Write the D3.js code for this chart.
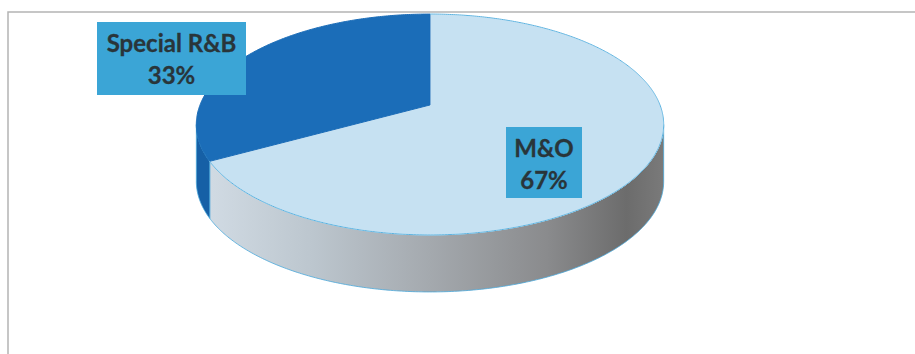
<!DOCTYPE html>
<html><head><meta charset="utf-8">
<script src="https://cdn.jsdelivr.net/npm/d3@7"></script>
<style>body{margin:0;background:#fff}svg{display:block}</style>
</head><body>
<svg id="c" width="915" height="354"></svg>
<script>
const categories = ["M&O", "Special R&B"];
const values = [67, 33];
const pctLabels = ["67%", "33%"];
const topColors = ["#c6e1f2", "#1b6db8"];
const sideColors = ["url(#sideGrad)", "#1660a6"];

const svg = d3.select("#c");
const W = 915, H = 354;
// perspective projection of the pie disc
const cx = 430, cy0 = 105, A = 230, B = 107, k = 0.1765, depth = 57;

const defs = svg.append("defs");
const g = defs.append("linearGradient").attr("id","sideGrad")
  .attr("gradientUnits","userSpaceOnUse").attr("x1",cx-234).attr("x2",cx+234).attr("y1",0).attr("y2",0);
[[0,"#d3dde6"],[0.25,"#bcc6ce"],[0.5,"#a4a9ae"],[0.75,"#8a8b8d"],[0.92,"#6c6c6c"],[1,"#7a7a7a"]]
  .forEach(([o,c])=>g.append("stop").attr("offset",o).attr("stop-color",c));

// frame
svg.append("path").attr("d",`M8,${H} L8,12 L${W},12`).attr("fill","none").attr("stroke","#b4b4b4").attr("stroke-width",1.5);

const pie = d3.pie().sort(null).value(d=>d);
const arcs = pie(values);

const pt = (a, dy=0) => {
  const X = Math.sin(a), Z = -Math.cos(a), w = 1 - k*Z;
  return [cx + A*X/w, cy0 + B*Z/w + dy];
};
const sample = (a0, a1, dy=0) => {
  const n = Math.max(2, Math.ceil(Math.abs(a1-a0)/0.01));
  return d3.range(n+1).map(j => pt(a0 + (a1-a0)*j/n, dy));
};
const line = d3.line();

// silhouette angles (widest points of the projected disc)
const sil0 = Math.acos(-k), sil1 = 2*Math.PI - Math.acos(-k);

// side walls
const sides = svg.append("g");
arcs.forEach((d,i)=>{
  const a0 = Math.max(d.startAngle, sil0), a1 = Math.min(d.endAngle, sil1);
  if (a1 <= a0) return;
  const pts = sample(a0,a1).concat(sample(a1,a0,depth));
  sides.append("path").attr("d",line(pts)+"Z").attr("fill",sideColors[i])
    .attr("stroke","#4aa8da").attr("stroke-width",0.8).attr("stroke-linejoin","round");
});

// top faces
const tops = svg.append("g");
arcs.forEach((d,i)=>{
  const pts = [[cx,cy0]].concat(sample(d.startAngle,d.endAngle));
  tops.append("path").attr("d",line(pts)+"Z").attr("fill",topColors[i])
    .attr("stroke", i===0 ? "#ffffff" : "#1b6db8").attr("stroke-width",1);
});
// outline of the light top edge
svg.append("path").attr("d",line(sample(arcs[0].startAngle, arcs[0].endAngle)))
  .attr("fill","none").attr("stroke","#5bb2e0").attr("stroke-width",1);

// labels: [x, y, w, h] of box
const labelBoxes = [[506,127,76,71],[97,22,149,73]];
const lab = svg.append("g");
arcs.forEach((d,i)=>{
  const [bx,by,w,h] = labelBoxes[i];
  const lx = bx + w/2;
  lab.append("rect").attr("x",bx).attr("y",by).attr("width",w).attr("height",h).attr("fill","#3ba5d6");
  const t = lab.append("text").attr("text-anchor","middle")
    .attr("font-family","Lato, 'Open Sans', sans-serif").attr("font-weight","bold")
    .attr("font-size",24).attr("fill","#29353a")
    .attr("stroke","#29353a").attr("stroke-width",0.3);
  t.append("tspan").attr("x",lx).attr("y",by+30).text(categories[i]);
  t.append("tspan").attr("x",lx).attr("y",by+62).text(pctLabels[i]);
});
</script>
</body></html>
